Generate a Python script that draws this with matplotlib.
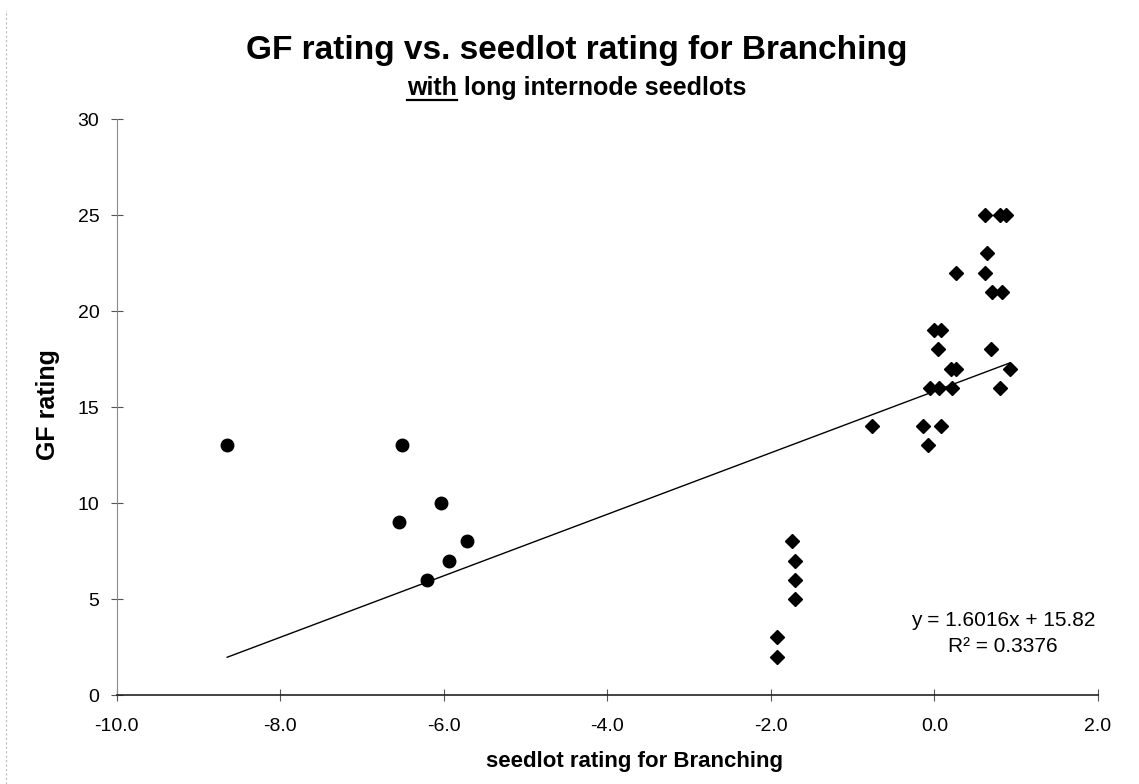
import matplotlib
matplotlib.use('Agg')
import matplotlib.pyplot as plt
from matplotlib.lines import Line2D

plt.rcParams['font.family'] = ['Liberation Sans', 'DejaVu Sans']

# seedlots shown as circles
circle_x = [-8.65, -6.51, -6.55, -6.04, -5.72, -5.94, -6.21]
circle_y = [13, 13, 9, 10, 8, 7, 6]

# seedlots shown as diamonds
diamond_x = [-1.74, -1.70, -1.70, -1.70, -1.92, -1.92,
             0.62, 0.80, 0.88, 0.64, 0.26, 0.62, 0.70, 0.82,
             -0.01, 0.08, 0.04, 0.69, 0.20, 0.26, 0.92,
             -0.06, 0.06, 0.22, 0.80, -0.76, -0.14, 0.08, -0.08]
diamond_y = [8, 7, 6, 5, 3, 2,
             25, 25, 25, 23, 22, 22, 21, 21,
             19, 19, 18, 18, 17, 17, 17,
             16, 16, 16, 16, 14, 14, 14, 13]

# linear trend line as printed on the chart
slope = 1.6016
intercept = 15.82
r_squared = 0.3376

x_ticks = [-10, -8, -6, -4, -2, 0, 2]
y_ticks = [0, 5, 10, 15, 20, 25, 30]

W, H = 1139, 784
fig = plt.figure(figsize=(W / 100, H / 100), dpi=100)
ax = fig.add_axes([116.8 / W, 1 - 695 / H, 981.2 / W, 576 / H])

# trend line from smallest to largest x
all_x = circle_x + diamond_x
x0, x1 = min(all_x), max(all_x)
ax.plot([x0, x1], [slope * x0 + intercept, slope * x1 + intercept],
        color='black', linewidth=1.0, zorder=2)

ax.plot(circle_x, circle_y, linestyle='none', marker='o', markersize=9,
        color='black', zorder=3)
ax.plot(diamond_x, diamond_y, linestyle='none', marker='D', markersize=7.2,
        color='black', zorder=3)

ax.set_xlim(-10, 2)
ax.set_ylim(0, 30)
ax.set_xticks(x_ticks)
ax.set_xticklabels(['%.1f' % v for v in x_ticks])
ax.set_yticks(y_ticks)

for side in ['top', 'right']:
    ax.spines[side].set_visible(False)
ax.spines['left'].set_color('#8a8a8a')
ax.spines['left'].set_linewidth(0.8)
ax.spines['left'].set_linestyle((0, (3, 1)))
ax.spines['bottom'].set_color('#222222')
ax.spines['bottom'].set_linewidth(1.2)

ax.tick_params(axis='both', direction='inout', length=9, width=0.8,
               color='#555555', labelsize=14)
ax.tick_params(axis='x', pad=12)
ax.tick_params(axis='y', pad=8)

eq_text = 'y = %.4fx + %.2f\nR² = %.4f' % (slope, intercept, r_squared)
ax.text(0.84, 3.2, eq_text, ha='center', va='center', fontsize=15,
        linespacing=1.5, multialignment='center')

# axis titles
fig.text(48 / W, 1 - 405 / H, 'GF rating', rotation=90, ha='center',
         va='center', fontsize=18, fontweight='bold')
fig.text(635 / W, 1 - 762 / H, 'seedlot rating for Branching', ha='center',
         va='center', fontsize=16, fontweight='bold')

# chart title and subtitle
fig.text(577 / W, 1 - 50 / H, 'GF rating vs. seedlot rating for Branching',
         ha='center', va='center', fontsize=24, fontweight='bold')
sub = fig.text(577 / W, 1 - 95 / H, 'with long internode seedlots',
               ha='center', va='baseline', fontsize=18, fontweight='bold')

# underline the word "with"
renderer = fig.canvas.get_renderer()
full_box = sub.get_window_extent(renderer)
probe = fig.text(0, 0, 'with', fontsize=18, fontweight='bold')
with_w = probe.get_window_extent(renderer).width
probe.remove()
fig.add_artist(Line2D([full_box.x0 / W, (full_box.x0 + with_w) / W], [1 - 100 / H, 1 - 100 / H],
                      transform=fig.transFigure, color='black', linewidth=1.6))

# faint scanned border on the left edge
fig.add_artist(Line2D([6 / W, 6 / W], [0, 1 - 10 / H], transform=fig.transFigure,
                      color='#bbbbbb', linewidth=0.8, linestyle=(0, (2, 2))))

fig.savefig('out.png', dpi=100)
